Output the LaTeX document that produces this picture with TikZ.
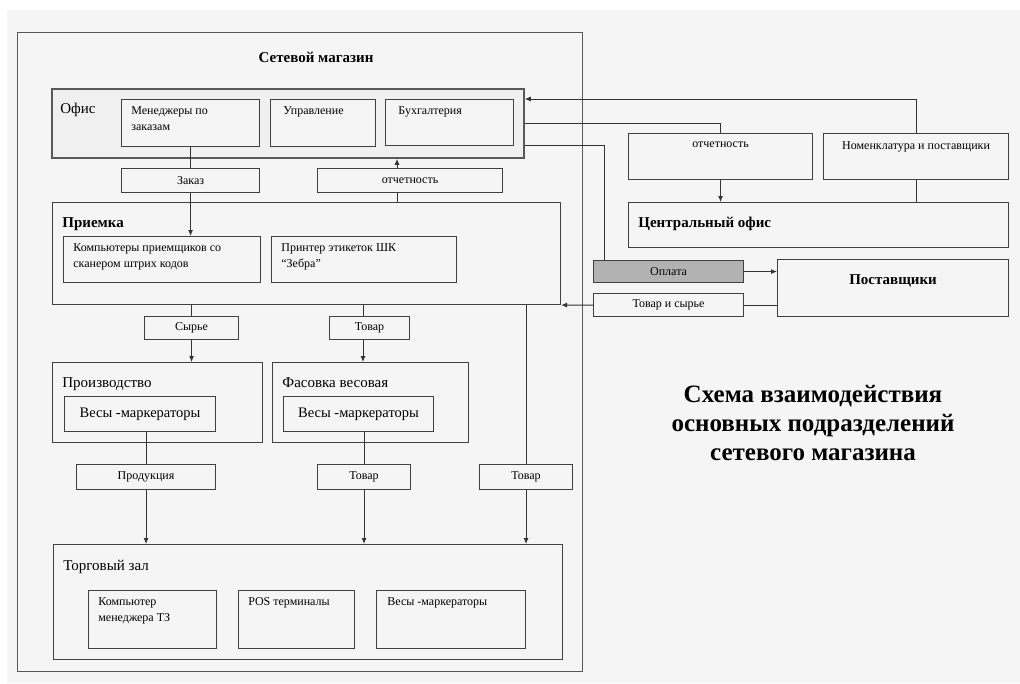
\documentclass[tikz,border=0pt]{standalone}
\usepackage{fontspec}
\setmainfont{Liberation Serif}
\usetikzlibrary{positioning, calc, arrows.meta}

\definecolor{bg}{HTML}{F5F5F5}
\newcommand{\fsmall}{\fontsize{12}{16}\selectfont}
\newcommand{\flabel}{\fontsize{15}{18}\selectfont}
\newcommand{\fhead}{\fontsize{15}{18}\selectfont\bfseries}
\newcommand{\ftitle}{\fontsize{25}{29}\selectfont\bfseries}

\tikzset{
  box/.style={draw=black!75, line width=1.1pt, rectangle, fill=bg, anchor=north west, inner sep=0pt, font=\fsmall},
  tl/.style={anchor=north west, inner sep=0pt, align=left, xshift=10pt, yshift=-7pt, font=\fsmall},
  big/.style={tl, font=\flabel, yshift=-8pt},
  head/.style={tl, font=\fhead, yshift=-8pt},
  tc/.style={anchor=north, inner sep=0pt, yshift=-8pt, font=\fsmall},
  wire/.style={draw=black!80, line width=0.9pt}
}

\begin{document}
\begin{tikzpicture}[x=1pt, y=-1pt, >={Latex[length=6pt,width=5pt]}, line width=0.8pt]
    \useasboundingbox (0,0) rectangle (1020,683);
    \fill[white] (0,0) rectangle (1020,683);
    \fill[bg] (7,10) rectangle (1020,683);

    % Shop frame
    \node[box, draw=black!65, minimum width=565pt, minimum height=639pt] (shop) at (17,32) {};
    \node[font=\fhead] (shopT) at (316,57) {Сетевой магазин};

    % Office
    \node[box, draw=black!65, line width=1.8pt, fill=black!6, minimum width=472pt, minimum height=69pt,
          label={[big, xshift=-1pt]north west:Офис}] (office) at (51,88) {};
    \node[box, minimum width=138pt, minimum height=47pt, label={[tl]north west:Менеджеры по\\заказам}] (mgr) at (121,99) {};
    \node[box, minimum width=105pt, minimum height=47pt, label={[tl, xshift=3pt]north west:Управление}] (upr) at (270,99) {};
    \node[box, minimum width=128pt, minimum height=46pt, label={[tl, xshift=3pt]north west:Бухгалтерия}] (buh) at (385,99) {};

    \node[box, minimum width=138pt, minimum height=24pt] (zakaz) at (121,168) {Заказ};
    \node[box, minimum width=185pt, minimum height=24pt] (otch) at (317,168) {отчетность};

    % Reception
    \node[box, minimum width=508pt, minimum height=102pt, label={[head, font=\fhead]north west:Приемка}] (priem) at (52,202) {};
    \node[box, minimum width=197pt, minimum height=46pt, label={[tl]north west:Компьютеры приемщиков со\\сканером штрих кодов}] (komp) at (63,236) {};
    \node[box, minimum width=185pt, minimum height=46pt, label={[tl]north west:Принтер этикеток ШК\\``Зебра''}] (printer) at (271,236) {};

    \node[box, minimum width=94pt, minimum height=23pt] (syr) at (144,316) {Сырье};
    \node[box, minimum width=80pt, minimum height=23pt] (tov1) at (329,316) {Товар};

    % Production and packing
    \node[box, minimum width=210pt, minimum height=80pt, label={[big]north west:Производство}] (proizv) at (52,362) {};
    \node[box, minimum width=196pt, minimum height=80pt, label={[big]north west:Фасовка весовая}] (fas) at (272,362) {};
    \node[box, font=\fontsize{14.5}{17}\selectfont, minimum width=151pt, minimum height=35pt] (ves1) at (64,396) {Весы -маркераторы};
    \node[box, font=\fontsize{14.5}{17}\selectfont, minimum width=150pt, minimum height=35pt] (ves2) at (283,396) {Весы -маркераторы};

    \node[box, minimum width=139pt, minimum height=25pt] (prod) at (76,464) {Продукция};
    \node[box, minimum width=93pt, minimum height=25pt] (tov2) at (317,464) {Товар};
    \node[box, minimum width=93pt, minimum height=25pt] (tov3) at (479,464) {Товар};

    % Sales floor
    \node[box, minimum width=509pt, minimum height=115pt, label={[big, yshift=-1pt]north west:Торговый зал}] (zal) at (53,544) {};
    \node[box, minimum width=128pt, minimum height=58pt, label={[tl]north west:Компьютер\\менеджера ТЗ}] (kompT) at (88,590) {};
    \node[box, minimum width=116pt, minimum height=58pt, label={[tl]north west:POS терминалы}] (pos) at (238,590) {};
    \node[box, minimum width=149pt, minimum height=58pt, label={[tl, xshift=1pt]north west:Весы -маркераторы}] (ves3) at (376,590) {};

    % Central office and suppliers
    \node[box, minimum width=184pt, minimum height=46pt, label={[tc]north:отчетность}] (otchR) at (628,133) {};
    \node[box, minimum width=185pt, minimum height=46pt, label={[tc]north:Номенклатура и поставщики}] (nom) at (823,133) {};
    \node[box, minimum width=380pt, minimum height=45pt, label={[head]north west:Центральный офис}] (central) at (628,202) {};
    \node[box, fill=black!30, minimum width=150pt, minimum height=22pt] (oplata) at (593,260) {Оплата};
    \node[box, minimum width=231pt, minimum height=57pt, label={[tc, font=\fhead, yshift=-7pt]north:Поставщики}] (post) at (777,259) {};
    \node[box, minimum width=150pt, minimum height=23pt] (tovsyr) at (593,293) {Товар и сырье};

    \node[font=\ftitle, align=center] (title) at (813,423) {Схема взаимодействия\\основных подразделений\\сетевого магазина};

    % Connectors inside the shop
    \coordinate (cR) at (397,0);
    \coordinate (cB) at (363,0);
    \draw[wire] (mgr.south) -- (zakaz.north);
    \draw[wire, ->] (zakaz.south) -- (zakaz.south |- komp.north);
    \draw[wire] (cR |- priem.north) -- (cR |- otch.south);
    \draw[wire, ->] (cR |- otch.north) -- (cR |- office.south);
    \draw[wire] (syr.north |- priem.south) -- (syr.north);
    \draw[wire, ->] (syr.south) -- (syr.south |- proizv.north);
    \draw[wire] (cB |- priem.south) -- (cB |- tov1.north);
    \draw[wire, ->] (cB |- tov1.south) -- (cB |- fas.north);
    \draw[wire] (prod.north |- ves1.south) -- (prod.north);
    \draw[wire, ->] (prod.south) -- (prod.south |- zal.north);
    \draw[wire] (tov2.north |- ves2.south) -- (tov2.north);
    \draw[wire, ->] (tov2.south) -- (tov2.south |- zal.north);
    \draw[wire] (tov3.north |- priem.south) -- (tov3.north);
    \draw[wire, ->] (tov3.south) -- (tov3.south |- zal.north);

    % Connectors to the outside
    \coordinate (cTop) at (0,99);
    \coordinate (cPay) at (604,145);
    \draw[wire, ->] (nom.north) |- (office.east |- cTop);
    \draw[wire] (office.east) -| (otchR.north);
    \draw[wire] (office.east |- cPay) -| (cPay |- oplata.north);
    \draw[wire, ->] (otchR.south) -- (otchR.south |- central.north);
    \draw[wire] (nom.south) -- (nom.south |- central.north);
    \draw[wire, ->] (oplata.east) -- (oplata.east -| post.west);
    \draw[wire] (post.west |- tovsyr.east) -- (tovsyr.east);
    \draw[wire, ->] (tovsyr.west) -- (priem.south east);

\end{tikzpicture}
\end{document}
